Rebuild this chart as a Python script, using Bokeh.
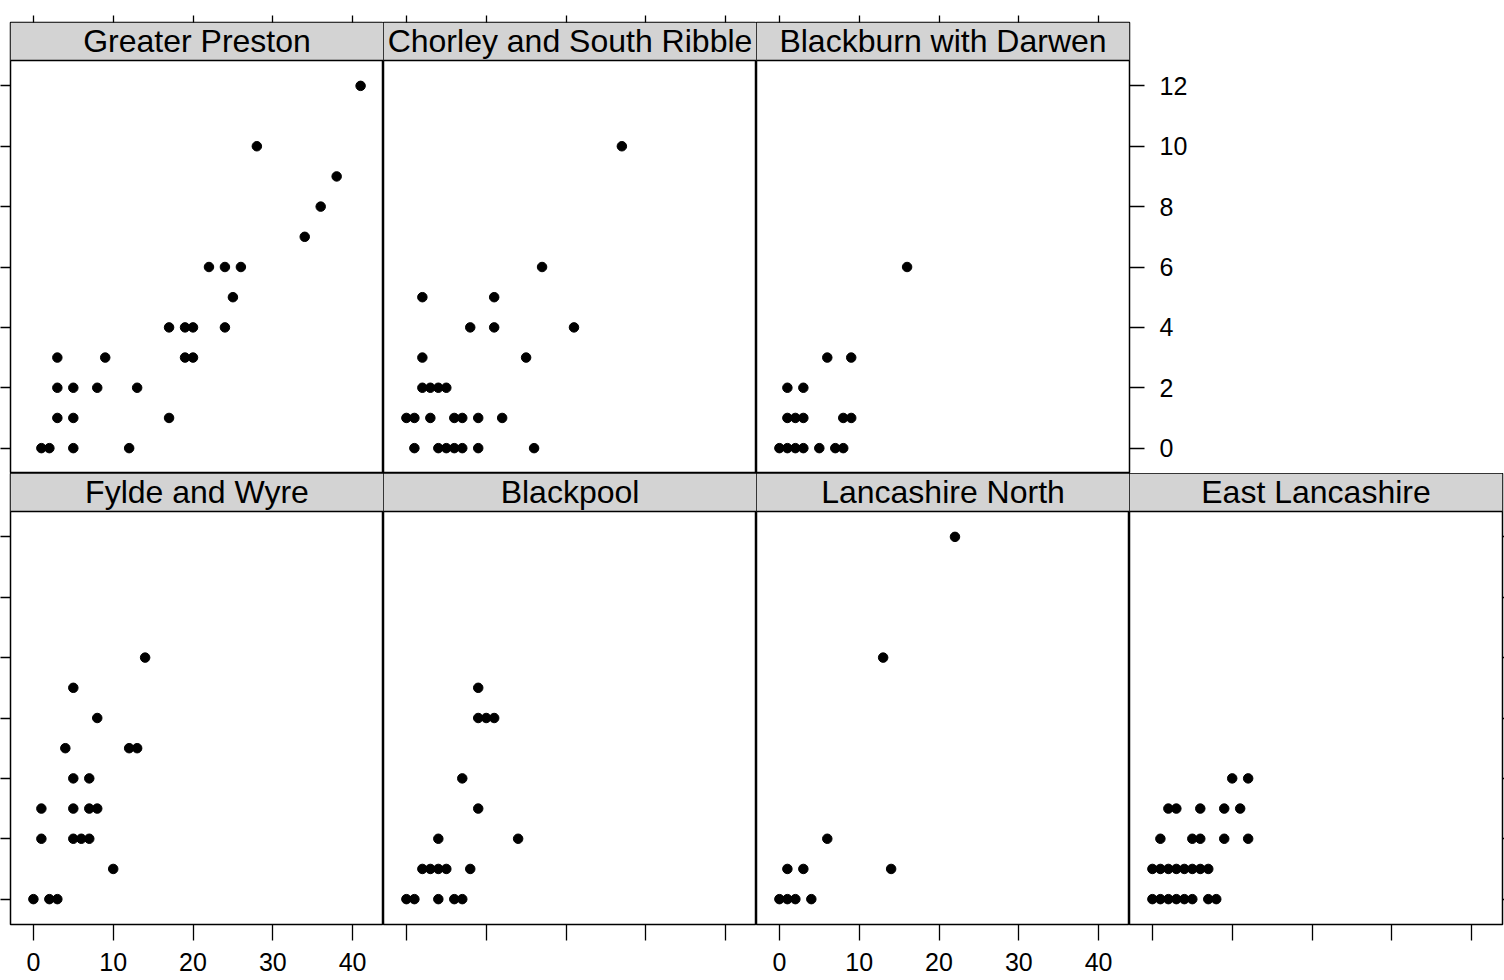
from bokeh.plotting import figure
from bokeh.layouts import row, column
from bokeh.models import Range1d, FixedTicker, BoxAnnotation, Span, LinearAxis
from bokeh.core.properties import value
from bokeh.embed import file_html
from bokeh.resources import INLINE

# ---------------- data ----------------
regions = ["Greater Preston", "Chorley and South Ribble", "Blackburn with Darwen",
           "Fylde and Wyre", "Blackpool", "Lancashire North", "East Lancashire"]

gp_x = [1, 2, 5, 12, 3, 5, 17, 3, 5, 8, 13, 3, 9, 19, 20, 17, 19, 20, 24, 25, 22, 24, 26, 34, 36, 38, 28, 41]
gp_y = [0, 0, 0, 0, 1, 1, 1, 2, 2, 2, 2, 3, 3, 3, 3, 4, 4, 4, 4, 5, 6, 6, 6, 7, 8, 9, 10, 12]

csr_x = [1, 4, 5, 6, 7, 9, 16, 0, 1, 3, 6, 7, 9, 12, 2, 3, 4, 5, 2, 15, 8, 11, 21, 2, 11, 17, 27]
csr_y = [0, 0, 0, 0, 0, 0, 0, 1, 1, 1, 1, 1, 1, 1, 2, 2, 2, 2, 3, 3, 4, 4, 4, 5, 5, 6, 10]

bwd_x = [0, 1, 2, 3, 5, 7, 8, 1, 2, 3, 8, 9, 1, 3, 6, 9, 16]
bwd_y = [0, 0, 0, 0, 0, 0, 0, 1, 1, 1, 1, 1, 2, 2, 3, 3, 6]

fw_x = [0, 2, 3, 10, 1, 5, 6, 7, 1, 5, 7, 8, 5, 7, 4, 12, 13, 8, 5, 14]
fw_y = [0, 0, 0, 1, 2, 2, 2, 2, 3, 3, 3, 3, 4, 4, 5, 5, 5, 6, 7, 8]

bp_x = [0, 1, 4, 6, 7, 2, 3, 4, 5, 8, 4, 14, 9, 7, 9, 10, 11, 9]
bp_y = [0, 0, 0, 0, 0, 1, 1, 1, 1, 1, 2, 2, 3, 4, 6, 6, 6, 7]

ln_x = [0, 1, 2, 4, 1, 3, 14, 6, 13, 22]
ln_y = [0, 0, 0, 0, 1, 1, 1, 2, 8, 12]

el_x = [0, 1, 2, 3, 4, 5, 7, 8, 0, 1, 2, 3, 4, 5, 6, 7, 1, 5, 6, 9, 12, 2, 3, 6, 9, 11, 10, 12]
el_y = [0, 0, 0, 0, 0, 0, 0, 0, 1, 1, 1, 1, 1, 1, 1, 1, 2, 2, 2, 2, 2, 3, 3, 3, 3, 3, 4, 4]

x_ticks = [0, 10, 20, 30, 40]
y_ticks = [0, 2, 4, 6, 8, 10, 12]

series_x = [gp_x, csr_x, bwd_x, fw_x, bp_x, ln_x, el_x]
series_y = [gp_y, csr_y, bwd_y, fw_y, bp_y, ln_y, el_y]

# ---------------- layout / style ----------------
FONT = "Liberation Sans"
FRAME_W = 373
STRIP_H = 38
PANEL_H = 413
FRAME_H = STRIP_H + PANEL_H
STRIP_COLOR = "#d3d3d3"
STRIP_TEXT_PX = 19.5  # anchor of strip text above panel top, in pixels

all_x = [v for s in series_x for v in s]
all_y = [v for s in series_y for v in s]
pad = 0.07
x_lo = min(all_x) - pad * (max(all_x) - min(all_x))
x_hi = max(all_x) + pad * (max(all_x) - min(all_x))
y_lo = min(all_y) - pad * (max(all_y) - min(all_y))
y_hi = max(all_y) + pad * (max(all_y) - min(all_y))
y_per_px = (y_hi - y_lo) / PANEL_H
y_top = y_hi + STRIP_H * y_per_px


def add_axis(p, side, ticks, tick_out, labels=False, standoff=0, font_size="25px"):
    ax = LinearAxis(ticker=FixedTicker(ticks=ticks, minor_ticks=[]),
                    major_tick_out=tick_out, major_tick_in=0,
                    minor_tick_out=0, minor_tick_in=0,
                    axis_line_color=None,
                    major_tick_line_color="black", major_tick_line_width=1.3,
                    major_label_text_font=FONT,
                    major_label_text_font_size=font_size,
                    major_label_text_color="black" if labels else None,
                    major_label_standoff=standoff if labels else 0)
    p.add_layout(ax, side)
    return ax


def make_panel(i, bl, br, bt, bb):
    p = figure(frame_width=FRAME_W, frame_height=FRAME_H,
               x_range=Range1d(x_lo, x_hi), y_range=Range1d(y_lo, y_top),
               toolbar_location=None, tools="", output_backend="svg",
               x_axis_location=None, y_axis_location=None,
               min_border_left=bl, min_border_right=br,
               min_border_top=bt, min_border_bottom=bb)
    p.grid.visible = False
    p.background_fill_color = "white"
    p.border_fill_color = "white"
    p.outline_line_color = "black"
    p.outline_line_width = 1.5
    p.add_layout(BoxAnnotation(bottom=y_hi, fill_color=STRIP_COLOR, fill_alpha=1.0,
                               line_color=None, level="underlay"))
    p.add_layout(Span(location=y_hi, dimension="width", line_color="black",
                      line_width=1.5))
    p.text(x=[(x_lo + x_hi) / 2], y=[y_hi + STRIP_TEXT_PX * y_per_px], text=[regions[i]],
           text_font=value(FONT), text_font_size="32px", text_color="black",
           text_align="center", text_baseline="alphabetic")
    p.scatter(series_x[i], series_y[i], size=9.5, marker="circle",
              fill_color="black", line_color="black")
    return p


# top row: 3 panels
f1 = make_panel(0, 10, 0, 22, 0)
f2 = make_panel(1, 0, 0, 22, 0)
f3 = make_panel(2, 0, 60, 22, 0)
for f in (f1, f2, f3):
    add_axis(f, "above", x_ticks, 7)
add_axis(f1, "left", y_ticks, 10)
add_axis(f3, "right", y_ticks, 15, labels=True, standoff=15)

# bottom row: 4 panels
g1 = make_panel(3, 10, 0, 0, 56)
g2 = make_panel(4, 0, 0, 0, 56)
g3 = make_panel(5, 0, 0, 0, 56)
g4 = make_panel(6, 0, 2, 0, 56)
add_axis(g1, "below", x_ticks, 16, labels=True, standoff=12)
add_axis(g2, "below", x_ticks, 16)
add_axis(g3, "below", x_ticks, 16, labels=True, standoff=12)
add_axis(g4, "below", x_ticks, 16)
add_axis(g1, "left", y_ticks, 10)
add_axis(g4, "right", y_ticks, 2)

layout = column(row(f1, f2, f3, spacing=0), row(g1, g2, g3, g4, spacing=0), spacing=0)

open("out.html", "w").write(file_html(layout, INLINE))
